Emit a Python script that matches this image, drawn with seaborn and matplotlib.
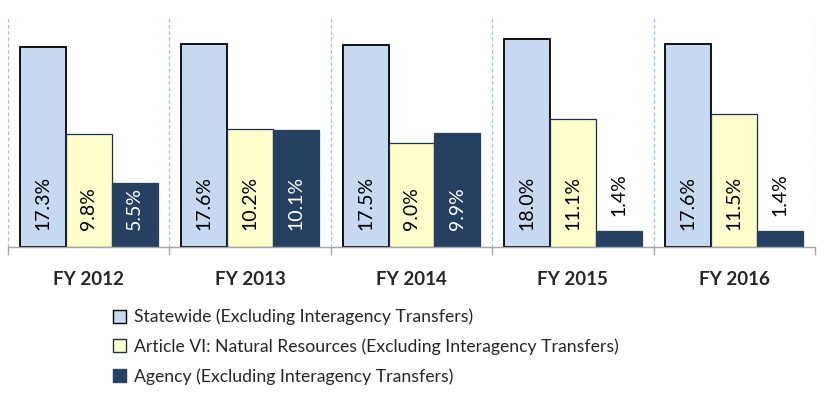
import pandas as pd
import matplotlib
matplotlib.use("Agg")
import matplotlib.pyplot as plt
from matplotlib.patches import Patch
from matplotlib.ticker import FixedLocator
import seaborn as sns

years = ["FY 2012", "FY 2013", "FY 2014", "FY 2015", "FY 2016"]
series = ["Statewide (Excluding Interagency Transfers)",
          "Article VI: Natural Resources (Excluding Interagency Transfers)",
          "Agency (Excluding Interagency Transfers)"]
statewide = [17.3, 17.6, 17.5, 18.0, 17.6]
article_vi = [9.8, 10.2, 9.0, 11.1, 11.5]
agency = [5.5, 10.1, 9.9, 1.4, 1.4]

fills = ["#C6D9F1", "#FFFFCC", "#254061"]
edges = ["#000000", "#1F2F4A", "#254061"]
label_colors = ["black", "black", "white"]

rows = []
for name, vals in zip(series, [statewide, article_vi, agency]):
    for yr, v in zip(years, vals):
        rows.append({"year": yr, "series": name, "pct": v})
df = pd.DataFrame(rows)

sns.set_theme(style="white")
plt.rcParams["font.family"] = ["Lato", "DejaVu Sans"]

fig = plt.figure(figsize=(8.28, 4.01), dpi=100)
ax = fig.add_axes([8 / 828, 1 - 247 / 401, 807 / 828, 231 / 401])

sns.barplot(data=df, x="year", y="pct", hue="series", order=years,
            hue_order=series, palette=fills, width=0.855, gap=0,
            saturation=1, legend=False, ax=ax)

for i, cont in enumerate(ax.containers):
    for bar, val in zip(cont.patches, [statewide, article_vi, agency][i]):
        bar.set_edgecolor(edges[i])
        bar.set_linewidth(1.3 if i == 0 else 0.9)
        cx = bar.get_x() + bar.get_width() / 2
        if val >= 4:
            ax.annotate(f"{val:.1f}%", xy=(cx, 0), xytext=(0, 12),
                        textcoords="offset points", ha="center", va="bottom",
                        rotation=90, fontsize=14, color=label_colors[i])
        else:
            ax.annotate(f"{val:.1f}%", xy=(cx, val), xytext=(0, 11),
                        textcoords="offset points", ha="center", va="bottom",
                        rotation=90, fontsize=14, color="black")

ax.set_ylim(0, 20)
ax.set_xlim(-0.5, len(years) - 0.5)
ax.set_xlabel("")
ax.set_ylabel("")
ax.set_yticks([])

bounds = [k - 0.5 for k in range(len(years) + 1)]
ax.xaxis.set_minor_locator(FixedLocator(bounds))
ax.tick_params(axis="x", which="major", length=0, pad=17)
ax.tick_params(axis="x", which="minor", length=6, width=1, color="#A6A6A6",
               direction="out", bottom=True)
for b in bounds:
    ax.axvline(b, color="#9DC3E6", linestyle=(0, (3, 2)), linewidth=0.9,
               zorder=0)
for lbl in ax.get_xticklabels():
    lbl.set_fontweight("bold")
    lbl.set_fontsize(13.5)

for s in ["top", "right", "left"]:
    ax.spines[s].set_visible(False)
ax.spines["bottom"].set_color("#A6A6A6")
ax.spines["bottom"].set_linewidth(1)

handles = [Patch(facecolor=fills[i], edgecolor=edges[i] if i else "#000000",
                 linewidth=1.0, label=series[i]) for i in range(3)]
fig.legend(handles=handles, loc="upper left",
           bbox_to_anchor=(104 / 828, 1 - 300 / 401), frameon=False,
           fontsize=12.7, handlelength=0.75, handleheight=0.75,
           handletextpad=0.45, labelspacing=0.74, borderpad=0)

fig.savefig("out.png", dpi=100)
